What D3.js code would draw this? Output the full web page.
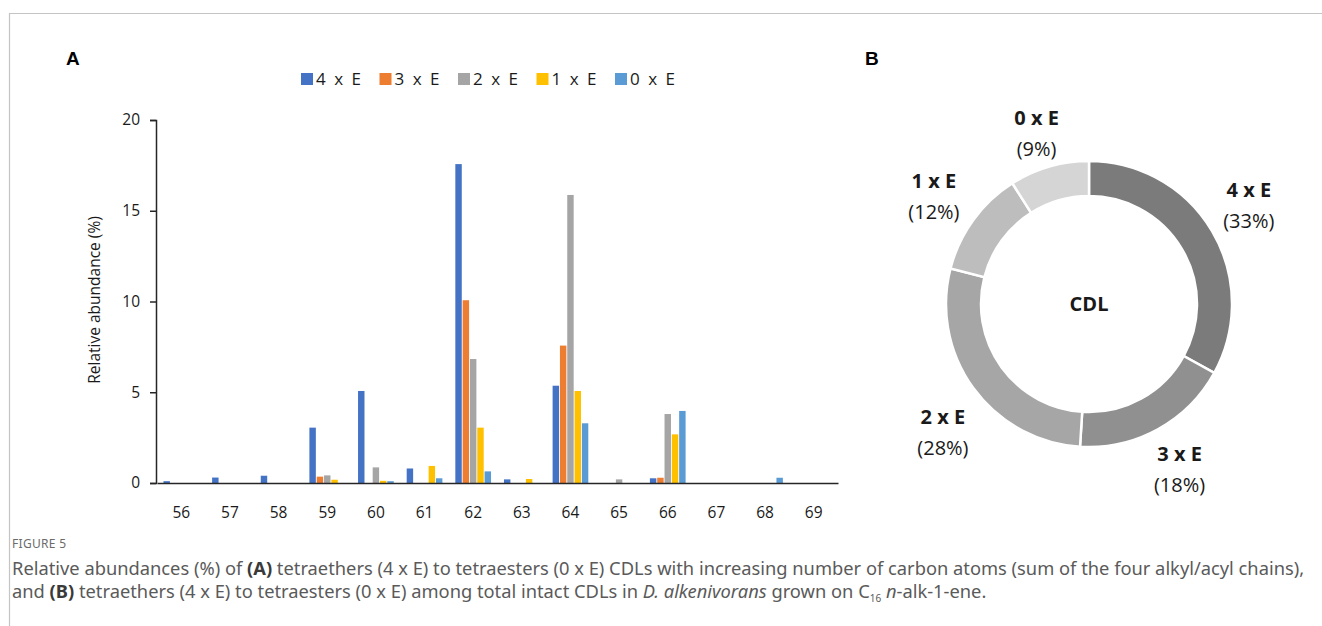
<!DOCTYPE html>
<html>
<head>
<meta charset="utf-8">
<script src="https://cdn.jsdelivr.net/npm/d3@7"></script>
<style>
  body { margin: 0; background: #fff; }
  svg { display: block; }
</style>
</head>
<body>
<div id="chart"></div>
<script>
// carbon number categories
let carbons = ["56", "57", "58", "59", "60", "61", "62", "63", "64", "65", "66", "67", "68", "69"];
let seriesNames = ["4 x E", "3 x E", "2 x E", "1 x E", "0 x E"];
let seriesColors = ["#4472c4", "#ed7d31", "#a5a5a5", "#ffc000", "#5b9bd5"];

// relative abundance (%) per carbon number
let fourE  = [0.1, 0.3, 0.4, 3.05, 5.07, 0.8, 17.57, 0.2, 5.36, 0, 0.26, 0, 0, 0];
let threeE = [0, 0, 0, 0.35, 0, 0, 10.07, 0, 7.57, 0, 0.29, 0, 0, 0];
let twoE   = [0, 0, 0, 0.42, 0.86, 0, 6.83, 0, 15.87, 0.2, 3.8, 0, 0, 0];
let oneE   = [0, 0, 0, 0.18, 0.12, 0.94, 3.05, 0.22, 5.07, 0, 2.68, 0, 0, 0];
let zeroE  = [0, 0, 0, 0, 0.1, 0.26, 0.64, 0, 3.29, 0, 3.97, 0, 0.29, 0];
let yTicks = [0, 5, 10, 15, 20];

// donut (share of total intact CDLs)
let donutLabels = ["4 x E", "3 x E", "2 x E", "1 x E", "0 x E"];
let donutValues = [33, 18, 28, 12, 9];
let donutColors = ["#7b7b7b", "#909090", "#a6a6a6", "#bdbdbd", "#d5d5d5"];

let allSeries = [fourE, threeE, twoE, oneE, zeroE];

let svgWidth = 1322;
let svgHeight = 626;
let font = "'Open Sans', 'Noto Sans', sans-serif";

let svg = d3.select("#chart")
  .append("svg")
  .attr("width", svgWidth)
  .attr("height", svgHeight);

// figure frame (top + left rule)
svg.append("path")
  .attr("d", "M9.5,626 V13.5 H1322")
  .attr("fill", "none")
  .attr("stroke", "#c4c4c4")
  .attr("stroke-width", 1.2);

// panel letters
svg.append("text").attr("x", 66).attr("y", 65).text("A")
  .attr("font-family", "'Liberation Sans', Arial, sans-serif").attr("font-weight", "bold").attr("font-size", 19);
svg.append("text").attr("x", 865).attr("y", 65).text("B")
  .attr("font-family", "'Liberation Sans', Arial, sans-serif").attr("font-weight", "bold").attr("font-size", 19);

// ---- panel A: grouped bars ----
let x0 = d3.scaleBand()
  .domain(carbons)
  .range([157, 838])
  .paddingInner(0.23)
  .paddingOuter(0.115);

let x1 = d3.scaleBand()
  .domain(seriesNames)
  .range([0, x0.bandwidth()])
  .padding(0.12);

let y = d3.scaleLinear()
  .domain([0, 20])
  .range([483, 120]);

let barData = [];
carbons.forEach(function(c, i) {
  seriesNames.forEach(function(s, j) {
    barData.push({ carbon: c, series: s, value: allSeries[j][i], color: seriesColors[j] });
  });
});

svg.append("g")
  .selectAll("rect")
  .data(barData.filter(d => d.value > 0))
  .enter()
  .append("rect")
  .attr("x", d => x0(d.carbon) + x1(d.series))
  .attr("y", d => y(d.value))
  .attr("width", x1.bandwidth())
  .attr("height", d => y(0) - y(d.value))
  .attr("fill", d => d.color);

// y axis
let yAxis = svg.append("g")
  .attr("transform", "translate(156,0)")
  .call(d3.axisLeft(y).tickValues(yTicks).tickSize(6).tickPadding(10));
yAxis.select(".domain").attr("stroke", "#262626").attr("stroke-width", 1.5);
yAxis.selectAll(".tick line").attr("stroke", "#262626").attr("stroke-width", 1.5);
yAxis.selectAll(".tick text")
  .attr("font-family", font).attr("font-size", 15.5).attr("fill", "#1a1a1a");

// x axis
let xAxis = svg.append("g")
  .attr("transform", "translate(0,483)")
  .call(d3.axisBottom(x0).tickSize(0).tickPadding(24));
xAxis.select(".domain").attr("stroke", "#262626").attr("stroke-width", 1.5);
xAxis.selectAll(".tick text")
  .attr("font-family", font).attr("font-size", 15.5).attr("fill", "#1a1a1a");

// y axis title
svg.append("text")
  .attr("transform", "translate(100,300) rotate(-90)")
  .attr("text-anchor", "middle")
  .attr("font-family", font)
  .attr("font-size", 15.5)
  .attr("fill", "#1a1a1a")
  .text("Relative abundance (%)");

// legend
let legend = svg.append("g").attr("transform", "translate(301,0)");
let legendItems = legend.selectAll("g")
  .data(seriesNames)
  .enter()
  .append("g")
  .attr("transform", (d, i) => `translate(${i * 78.5},0)`);
legendItems.append("rect")
  .attr("x", 0).attr("y", 73)
  .attr("width", 12).attr("height", 12)
  .attr("fill", (d, i) => seriesColors[i]);
legendItems.append("text")
  .attr("x", 15).attr("y", 85)
  .attr("font-family", font)
  .attr("font-size", 17)
  .attr("letter-spacing", "2px")
  .attr("fill", "#1a1a1a")
  .text(d => d);

// ---- panel B: donut ----
let cx = 1089, cy = 304;
let pie = d3.pie().sort(null).value(d => d.value);
let donutData = pie(donutLabels.map((l, i) => ({ label: l, value: donutValues[i], color: donutColors[i] })));

let arc = d3.arc().innerRadius(108).outerRadius(143);
let labelArc = d3.arc().innerRadius(188).outerRadius(188);
// small nudges so labels sit where the original placed them
let nudge = [[-2, -3], [0, 0], [6, 17], [-3, 3], [0, 10]];

let donut = svg.append("g").attr("transform", `translate(${cx},${cy})`);
donut.selectAll("path")
  .data(donutData)
  .enter()
  .append("path")
  .attr("d", arc)
  .attr("fill", d => d.data.color)
  .attr("stroke", "#fff")
  .attr("stroke-width", 2.5);

let dLabels = donut.selectAll("g.lbl")
  .data(donutData)
  .enter()
  .append("g")
  .attr("class", "lbl")
  .attr("transform", (d, i) => {
    let c = labelArc.centroid(d);
    return `translate(${c[0] + nudge[i][0]},${c[1] + nudge[i][1]})`;
  });
dLabels.append("text")
  .attr("y", -8)
  .attr("text-anchor", "middle")
  .attr("font-family", font)
  .attr("font-weight", "bold")
  .attr("font-size", 20)
  .attr("fill", "#1a1a1a")
  .text(d => d.data.label);
dLabels.append("text")
  .attr("y", 23)
  .attr("text-anchor", "middle")
  .attr("font-family", font)
  .attr("font-size", 20)
  .attr("fill", "#1a1a1a")
  .text(d => `(${d.data.value}%)`);

donut.append("text")
  .attr("y", 7)
  .attr("text-anchor", "middle")
  .attr("font-family", font)
  .attr("font-weight", "bold")
  .attr("font-size", 20)
  .attr("fill", "#1a1a1a")
  .text("CDL");

// ---- caption ----
let capFont = "'Noto Sans', 'Open Sans', sans-serif";
let capX = 12;
svg.append("text")
  .attr("x", capX).attr("y", 548)
  .attr("font-family", capFont)
  .attr("font-size", 12)
  .attr("letter-spacing", "0.3px")
  .attr("fill", "#6b6b6b")
  .text("FIGURE 5");

function captionLine(yPos, parts) {
  let t = svg.append("text")
    .attr("x", capX).attr("y", yPos)
    .attr("font-family", capFont)
    .attr("font-size", 15)
    .attr("fill", "#5a5a5a");
  parts.forEach(function(p) {
    let ts = t.append("tspan").text(p.t);
    if (p.b) ts.attr("font-weight", "bold").attr("fill", "#3a3a3a");
    if (p.i) ts.attr("font-style", "italic");
    if (p.sub) ts.attr("font-size", 10).attr("dy", 4);
    if (p.up) ts.attr("dy", -4);
  });
  return t;
}

let cap1 = captionLine(575, [
  { t: "Relative abundances (%) of " }, { t: "(A)", b: true },
  { t: " tetraethers (4 x E) to tetraesters (0 x E) CDLs with increasing number of carbon atoms (sum of the four alkyl/acyl chains)," }
]);
let cap2 = captionLine(598, [
  { t: "and " }, { t: "(B)", b: true },
  { t: " tetraethers (4 x E) to tetraesters (0 x E) among total intact CDLs in " },
  { t: "D. alkenivorans", i: true }, { t: " grown on C" }, { t: "16", sub: true },
  { t: " ", up: true }, { t: "n", i: true }, { t: "-alk-1-ene." }
]);

// shrink caption font so the first line spans the same width as the original
let w1 = cap1.node().getComputedTextLength();
let capSize = 15 * 1293 / w1;
cap1.attr("font-size", capSize);
cap2.attr("font-size", capSize);
</script>
</body>
</html>
